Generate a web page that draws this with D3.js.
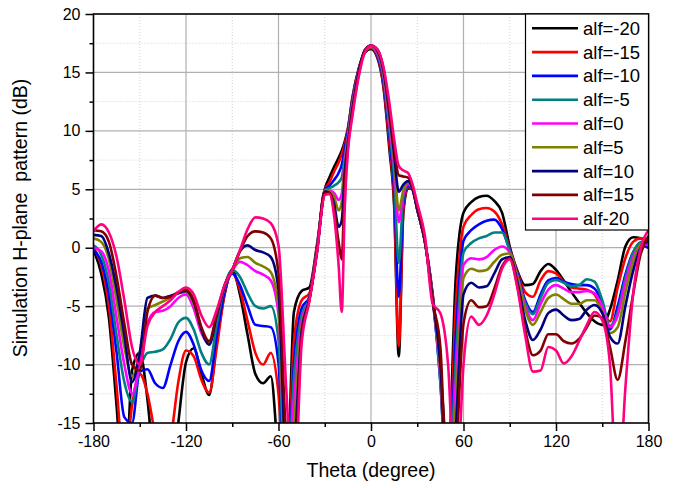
<!DOCTYPE html>
<html><head><meta charset="utf-8">
<script src="https://cdn.jsdelivr.net/npm/d3@7"></script>
<style>
body{margin:0;background:#fff}
text{font-family:Arial,"Liberation Sans",sans-serif}
</style></head>
<body><svg id="c" width="674" height="488"></svg>
<script>
// ---- data ----
const theta = [-180,-175,-170,-165,-160,-155,-150,-145,-140,-135,-130,-125,-120,-115,-110,-105,-100,-95,-90,-85,-80,-75,-70,-65,-60,-55,-50,-45,-40,-35,-30,
  -27,-24,-21,-19,-17,-15,-12,-8,-4,0,4,8,12,15,18,21,24,27,
  30,35,40,45,50,55,60,65,70,75,80,85,90,95,100,105,110,115,120,125,130,135,140,145,150,155,160,165,170,175,180];

const seriesNames = ["alf=-20","alf=-15","alf=-10","alf=-5","alf=0","alf=5","alf=10","alf=15","alf-20"];
const seriesColors = ["#000000","#ff0000","#0000ff","#008080","#ff00ff","#808000","#000080","#800000","#ff0080"];

const alfM20 = [-0.2,-2.2,-6.0,-13.6,-22,-10.5,-9.0,-13,-20,-24,-21,-15,-9.8,-8.6,-10.8,-12.6,-8.0,-4.0,-1.9,-4.0,-7.5,-10.8,-11.6,-11.0,-18,-22,-5.5,-3.7,-3.4,0.3,5.0,
  6.0,6.9,7.7,8.3,9.1,10.2,12.9,15.3,16.7,17.0,16.3,13.8,8.3,3.6,-9.3,3.0,5.1,5.0,
  3.3,0.5,-4.0,-10.5,-18,-2.5,3.0,3.9,4.35,4.45,4.0,3.0,0.1,-2.0,-3.2,-3.1,-2.0,-1.4,-1.9,-2.8,-3.8,-4.7,-5.6,-6.3,-6.6,-5.3,-2.8,0.1,0.9,0.8,0.3];
const alfM15 = [0.0,-1.5,-5.0,-11.9,-19,-13.5,-10.8,-12.5,-16,-19,-16.5,-11.5,-8.8,-9.3,-11.3,-12.4,-8.5,-4.0,-2.2,-3.6,-6.3,-9.0,-10.0,-9.0,-12.5,-22,-8,-4.5,-3.9,0.0,4.9,
  5.6,6.5,7.3,8.0,8.9,10.1,12.8,15.3,16.8,17.1,16.4,14.0,8.8,4.0,-8.4,3.3,5.2,5.0,
  3.3,0.5,-4.1,-10.8,-20,-5,1.8,2.8,3.3,3.4,3.1,2.0,-0.1,-2.1,-3.8,-4.2,-2.8,-2.0,-2.2,-2.9,-3.4,-3.5,-3.6,-4.0,-5.3,-6.3,-3.4,-0.9,0.5,0.8,0.7];
const alfM10 = [-0.2,-1.2,-4.0,-9.0,-14.5,-15.0,-10.6,-10.4,-11.6,-12.0,-10.0,-8.0,-7.2,-8.3,-10.5,-11.4,-7.5,-3.8,-2.2,-3.2,-5.0,-6.6,-6.7,-6.8,-9.9,-22,-10,-5.2,-4.2,-0.1,4.9,
  5.3,5.8,6.4,7.1,8.5,9.9,12.6,15.2,16.8,17.2,16.5,14.3,9.5,5.0,-4.2,3.8,5.3,5.0,
  3.3,0.5,-4.2,-11.5,-22,-7.5,0.6,1.5,2.0,2.3,2.4,1.6,-0.2,-2.2,-4.5,-5.5,-4.0,-2.8,-2.6,-2.9,-3.1,-3.2,-3.2,-3.5,-4.8,-7.0,-5.0,-2.3,-0.4,0.2,0.0];
const alfM5 = [0.2,-0.6,-3.0,-7.5,-11.5,-13.2,-10.4,-9.0,-8.9,-8.7,-7.8,-6.4,-6.0,-7.0,-9.0,-10.0,-6.5,-3.3,-1.9,-2.5,-3.9,-5.0,-5.2,-5.0,-7.9,-22,-11,-5.8,-4.3,-0.1,4.9,
  5.1,5.3,5.6,6.0,7.8,9.6,12.4,15.1,16.8,17.2,16.6,14.6,10.0,6.0,-1.3,4.3,5.4,5.0,
  3.3,0.5,-4.3,-11.5,-22,-9.5,-0.4,0.4,0.8,1.0,1.3,1.3,-0.3,-2.4,-4.7,-5.7,-4.3,-3.0,-2.75,-3.0,-3.3,-3.2,-2.7,-2.9,-4.5,-6.7,-5.5,-2.6,-0.4,0.5,0.6];
const alf0 = [0.0,-0.3,-2.0,-6.0,-10.0,-12.5,-10.0,-6.5,-5.5,-5.4,-5.0,-4.3,-4.0,-5.2,-7.3,-8.2,-5.8,-3.4,-2.0,-1.2,-1.5,-2.0,-2.3,-2.8,-5.7,-20,-13,-6.3,-4.4,-0.2,4.9,
  4.9,4.7,4.1,4.6,7.4,9.4,12.2,15.0,16.8,17.2,16.7,14.8,10.5,7.0,2.2,4.6,5.5,5.0,
  3.3,0.5,-4.4,-11.0,-22,-11.5,-1.5,-0.9,-1.0,-0.8,-0.2,0.1,-0.4,-2.5,-5.0,-6.2,-4.8,-3.6,-3.2,-3.5,-3.8,-3.8,-3.7,-3.9,-5.0,-6.8,-5.8,-3.0,-0.8,0.2,0.3];
const alf5 = [0.8,0.5,-1.0,-4.5,-8.5,-11.0,-9.0,-5.2,-4.9,-4.6,-4.3,-3.9,-3.8,-4.8,-7.0,-8.2,-5.8,-3.4,-2.0,-0.9,-0.8,-1.3,-1.6,-2.1,-5.0,-20,-15,-6.8,-4.4,-0.2,4.9,
  4.8,4.4,3.2,3.9,7.0,9.2,12.1,15.0,16.8,17.2,16.8,15.0,11.0,7.5,3.2,4.9,5.6,5.0,
  3.3,0.5,-4.4,-10.5,-22,-13.5,-2.6,-1.8,-2.0,-1.9,-1.2,-0.6,-0.5,-2.6,-5.3,-6.6,-5.5,-4.3,-4.0,-4.4,-4.8,-4.8,-4.5,-4.5,-5.5,-7.3,-6.8,-3.8,-1.2,0.3,0.6];
const alf10 = [1.1,1.0,-0.5,-3.5,-7.5,-11.5,-9.0,-4.3,-4.1,-4.3,-4.1,-3.9,-3.7,-4.6,-7.0,-8.3,-5.8,-3.3,-1.9,-0.3,0.2,-0.2,-0.4,-0.8,-3.6,-18,-17,-7.2,-4.4,-0.3,4.8,
  4.7,3.8,1.8,2.3,6.5,8.9,11.9,15.0,16.9,17.3,16.9,15.2,11.4,8.0,4.8,5.4,5.7,5.0,
  3.3,0.5,-4.4,-10.0,-22,-15.5,-4.0,-3.0,-3.4,-3.3,-2.2,-1.0,-0.8,-3.0,-6.2,-7.9,-7.0,-5.6,-5.3,-5.8,-6.2,-6.1,-5.3,-4.9,-5.6,-7.6,-8.2,-5.0,-2.0,0.0,0.6];
const alf15 = [1.5,1.4,0.5,-2.5,-6.5,-10.0,-10.5,-5.5,-4.1,-4.3,-4.2,-3.8,-3.6,-4.5,-6.8,-8.0,-5.6,-3.2,-1.9,-0.3,1.0,1.4,1.3,0.8,-2.2,-16,-19,-7.6,-4.5,-0.3,4.7,
  4.7,3.3,0.5,-1.0,5.5,8.6,11.6,14.8,16.9,17.3,17.0,15.4,11.8,8.6,6.2,6.1,6.0,5.2,
  3.5,0.6,-4.6,-8.5,-22,-18,-6.5,-4.5,-5.1,-5.0,-3.5,-1.6,-0.9,-3.3,-7.0,-9.2,-8.8,-7.4,-7.4,-8.0,-8.2,-7.8,-6.8,-5.8,-6.0,-8.5,-11.3,-8.0,-4.0,-0.5,1.0];
const alf20 = [1.4,2.0,1.3,-0.8,-4.5,-8.5,-10.0,-6.7,-5.5,-5.0,-4.5,-3.8,-3.4,-4.0,-5.8,-6.8,-5.3,-3.2,-1.9,-0.2,1.6,2.6,2.5,2.1,0.2,-12,-22,-8.2,-4.6,-0.4,4.5,
  4.6,2.8,-1.5,-5.5,3.5,8.2,11.3,14.6,16.7,17.3,17.0,15.5,12.3,9.3,7.0,6.6,6.4,5.4,
  3.8,1.0,-4.8,-5.6,-10,-22,-10,-5.9,-6.6,-5.8,-4.0,-1.8,-1.0,-3.5,-7.5,-10.6,-10.5,-8.5,-8.8,-9.9,-9.3,-8.0,-6.6,-5.5,-6.2,-10.0,-22,-12,-4.0,0.0,1.5];

const seriesValues = [alfM20,alfM15,alfM10,alfM5,alf0,alf5,alf10,alf15,alf20];
const xTicks = [-180,-120,-60,0,60,120,180];
const xMinor = [-150,-90,-30,30,90,150];
const yTicks = [-15,-10,-5,0,5,10,15,20];
const yMinor = [-12.5,-7.5,-2.5,2.5,7.5,12.5,17.5];

// ---- drawing ----
const svg = d3.select("#c");
const L=93.5, R=648.5, T=14, B=423;
const x = d3.scaleLinear().domain([-180,180]).range([L,R]);
const y = d3.scaleLinear().domain([-15,20]).range([B,T]);
const fmt = d => String(d);

svg.append("rect").attr("width",674).attr("height",488).attr("fill","#fff");

// grid
const g = svg.append("g");
g.selectAll(".xm").data(xMinor).join("line").attr("x1",d=>x(d)).attr("x2",d=>x(d)).attr("y1",T).attr("y2",B)
  .attr("stroke","#d0d0d0").attr("stroke-dasharray","1,2").attr("stroke-width",1);
g.selectAll(".ym").data(yMinor).join("line").attr("y1",d=>y(d)).attr("y2",d=>y(d)).attr("x1",L).attr("x2",R)
  .attr("stroke","#d0d0d0").attr("stroke-dasharray","1,2").attr("stroke-width",1);
g.selectAll(".xM").data(xTicks.slice(1,-1)).join("line").attr("x1",d=>x(d)).attr("x2",d=>x(d)).attr("y1",T).attr("y2",B)
  .attr("stroke","#b0b0b0").attr("stroke-width",1.2);
g.selectAll(".yM").data(yTicks.slice(1,-1)).join("line").attr("y1",d=>y(d)).attr("y2",d=>y(d)).attr("x1",L).attr("x2",R)
  .attr("stroke","#b0b0b0").attr("stroke-width",1.2);

// curves
svg.append("clipPath").attr("id","clip").append("rect").attr("x",L).attr("y",T).attr("width",R-L).attr("height",B-T);
const line = d3.line().x((d,i)=>x(theta[i])).y(d=>y(d)).curve(d3.curveMonotoneX);
const cg = svg.append("g").attr("clip-path","url(#clip)");
seriesValues.forEach((vals,k)=>{
  cg.append("path").attr("d",line(vals)).attr("fill","none").attr("stroke",seriesColors[k])
    .attr("stroke-width",2.6).attr("stroke-linejoin","round");
});

// axes
const ax = svg.append("g").attr("transform",`translate(0,${B})`)
  .call(d3.axisBottom(x).tickValues(xTicks).tickSize(8).tickPadding(5).tickFormat(fmt));
ax.select(".domain").remove();
ax.selectAll("text").attr("font-size","16px").attr("font-family","Arial, 'Liberation Sans', sans-serif").attr("fill","#000");
ax.selectAll("line").attr("stroke-width",1.5);
const axm = svg.append("g").attr("transform",`translate(0,${B})`)
  .call(d3.axisBottom(x).tickValues(xMinor).tickSize(4).tickFormat(""));
axm.select(".domain").remove(); axm.selectAll("line").attr("stroke-width",1.5);

const ay = svg.append("g").attr("transform",`translate(${L},0)`)
  .call(d3.axisLeft(y).tickValues(yTicks).tickSize(8).tickPadding(5).tickFormat(fmt));
ay.select(".domain").remove();
ay.selectAll("text").attr("font-size","16px").attr("font-family","Arial, 'Liberation Sans', sans-serif").attr("fill","#000");
ay.selectAll("line").attr("stroke-width",1.5);
const aym = svg.append("g").attr("transform",`translate(${L},0)`)
  .call(d3.axisLeft(y).tickValues(yMinor).tickSize(4).tickFormat(""));
aym.select(".domain").remove(); aym.selectAll("line").attr("stroke-width",1.5);

// frame
svg.append("rect").attr("x",L).attr("y",T).attr("width",R-L).attr("height",B-T)
  .attr("fill","none").attr("stroke","#000").attr("stroke-width",1.6);

// titles
svg.append("text").attr("x",371).attr("y",477).attr("text-anchor","middle").attr("font-size","19.5px").text("Theta (degree)");
svg.append("text").attr("transform","translate(27,218) rotate(-90)").attr("text-anchor","middle")
  .attr("font-size","19.5px").style("white-space","pre").text("Simulation H-plane  pattern (dB)");

// legend
const lg = svg.append("g");
lg.append("rect").attr("x",525.5).attr("y",T).attr("width",R-525.5).attr("height",216)
  .attr("fill","#fff").attr("stroke","#000").attr("stroke-width",1.2);
seriesNames.forEach((n,k)=>{
  const cy = 28.3 + k*23.8;
  lg.append("line").attr("x1",532).attr("x2",578).attr("y1",cy).attr("y2",cy)
    .attr("stroke",seriesColors[k]).attr("stroke-width",2.6);
  lg.append("text").attr("x",583).attr("y",cy+6.5).attr("font-size","18.5px").text(n);
});
</script></body></html>
